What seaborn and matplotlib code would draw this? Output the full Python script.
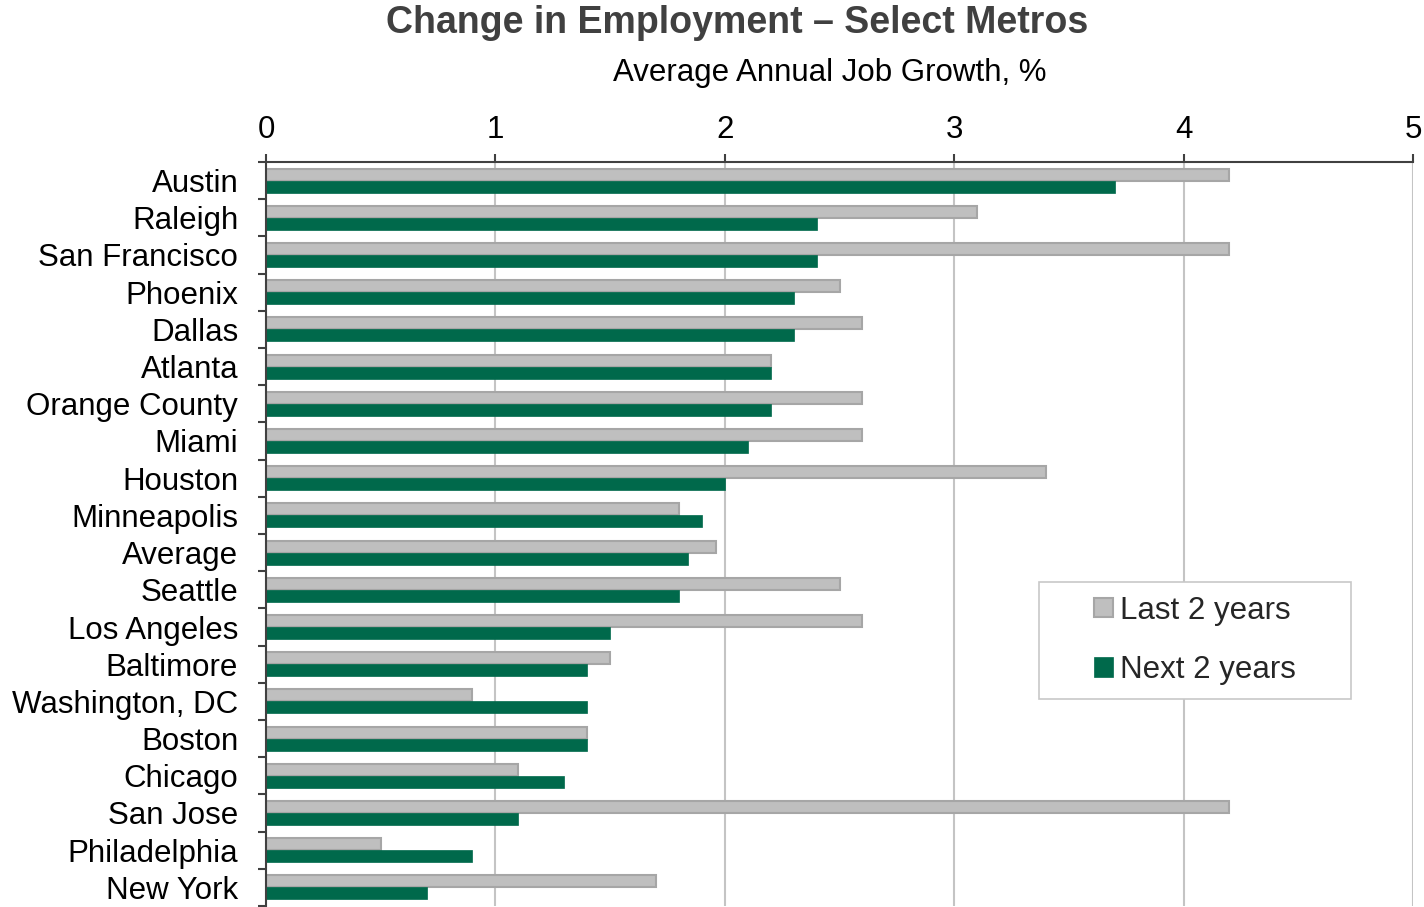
import numpy as np
import pandas as pd
import seaborn as sns
import matplotlib.pyplot as plt
from matplotlib.patches import Patch, Rectangle
from matplotlib.ticker import FixedLocator

# Average annual job growth (%) by metro
metros = [
    "Austin", "Raleigh", "San Francisco", "Phoenix", "Dallas", "Atlanta",
    "Orange County", "Miami", "Houston", "Minneapolis", "Average", "Seattle",
    "Los Angeles", "Baltimore", "Washington, DC", "Boston", "Chicago",
    "San Jose", "Philadelphia", "New York",
]
last_2_years = [4.2, 3.1, 4.2, 2.5, 2.6, 2.2, 2.6, 2.6, 3.4, 1.8,
                1.96, 2.5, 2.6, 1.5, 0.9, 1.4, 1.1, 4.2, 0.5, 1.7]
next_2_years = [3.7, 2.4, 2.4, 2.3, 2.3, 2.2, 2.2, 2.1, 2.0, 1.9,
                1.84, 1.8, 1.5, 1.4, 1.4, 1.4, 1.3, 1.1, 0.9, 0.7]
period_labels = ["Last 2 years", "Next 2 years"]
x_ticks = [0, 1, 2, 3, 4, 5]

GRAY = "#BFBFBF"
GRAY_EDGE = "#A6A6A6"
GREEN = "#00694B"
DARK = "#404040"

n = len(metros)
df = pd.DataFrame({
    "Metro": metros * 2,
    "Growth": last_2_years + next_2_years,
    "Period": [period_labels[0]] * n + [period_labels[1]] * n,
})

sns.set_theme(style="white")
plt.rcParams["font.family"] = ["Liberation Sans", "DejaVu Sans"]

fig = plt.figure(figsize=(14.24, 9.07), dpi=100)
ax = fig.add_axes([266 / 1424, 1 / 907, 1147 / 1424, 744 / 907])

sns.barplot(
    data=df, y="Metro", x="Growth", hue="Period", order=metros,
    hue_order=period_labels, palette={period_labels[0]: GRAY, period_labels[1]: GREEN},
    orient="h", width=0.64, ax=ax, legend=False, saturation=1,
)

# bar outlines
for bar in ax.containers[0]:
    bar.set_edgecolor(GRAY_EDGE)
    bar.set_linewidth(1.5)
for bar in ax.containers[1]:
    bar.set_edgecolor(GREEN)
    bar.set_linewidth(0.5)

ax.set_xlim(0, 5)
ax.set_ylim(n - 0.5, -0.5)
ax.set_xlabel("")
ax.set_ylabel("")

# value axis on top
ax.xaxis.tick_top()
ax.set_xticks(x_ticks)
ax.set_xticklabels([str(t) for t in x_ticks])
ax.tick_params(axis="x", which="major", top=True, bottom=False, direction="out",
               length=6, width=1.5, color=DARK, pad=6, labelsize=22.5,
               labelcolor="black")

# category labels without ticks; ticks sit on the band boundaries
ax.tick_params(axis="y", which="major", left=False, length=0, pad=20,
               labelsize=22.5, labelcolor="black")
ax.yaxis.set_minor_locator(FixedLocator(np.arange(-0.5, n, 1.0)))
ax.tick_params(axis="y", which="minor", left=True, direction="out",
               length=6, width=1.5, color=DARK)

ax.grid(axis="x", color="#C4C4C4", linewidth=1.5)
ax.set_axisbelow(True)

for side in ("right", "bottom"):
    ax.spines[side].set_visible(False)
for side in ("top", "left"):
    ax.spines[side].set_color(DARK)
    ax.spines[side].set_linewidth(1.5)

# legend panel
ax.add_patch(Rectangle((0.674, 0.278), 0.272, 0.1575, transform=ax.transAxes,
                       facecolor="white", edgecolor="#C8C8C8", linewidth=1.2,
                       zorder=4, clip_on=False))
handles = [
    Patch(facecolor=GRAY, edgecolor=GRAY_EDGE, linewidth=1.5, label=period_labels[0]),
    Patch(facecolor=GREEN, edgecolor=GREEN, linewidth=0.5, label=period_labels[1]),
]
leg = ax.legend(handles=handles, loc="center", bbox_to_anchor=(0.81, 0.357),
                frameon=False, fontsize=22.5, handlelength=0.6, handleheight=0.6,
                handletextpad=0.25, labelspacing=0.95)
leg.set_zorder(5)

fig.text(737 / 1424, 1 - 23 / 907, "Change in Employment \u2013 Select Metros",
         ha="center", va="center", fontsize=27, fontweight="bold", color=DARK)
fig.text(829.5 / 1424, 1 - 73 / 907, "Average Annual Job Growth, %",
         ha="center", va="center", fontsize=22.5, color="black")

fig.savefig("out.png", dpi=100)
